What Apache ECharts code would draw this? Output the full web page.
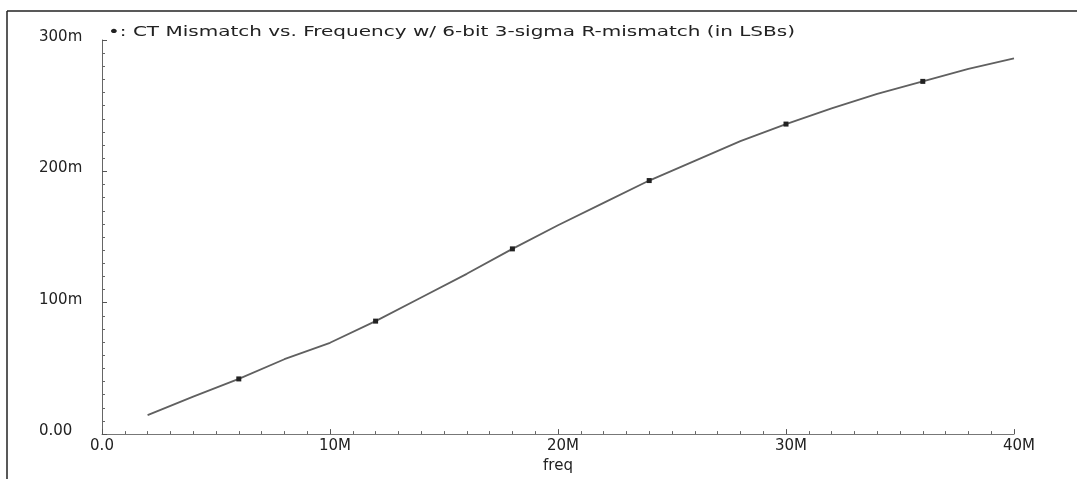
<!DOCTYPE html>
<html>
<head>
<meta charset="utf-8">
<title>CT Mismatch vs. Frequency</title>
<script src="https://cdn.jsdelivr.net/npm/echarts@6/dist/echarts.min.js"></script>
<style>
  html, body { margin: 0; padding: 0; background: #ffffff; }
  #chart { width: 1077px; height: 479px; }
</style>
</head>
<body>
<div id="chart"></div>
<script>
// Simulation sweep: frequency (MHz) and CT mismatch (milli-LSB)
var freqMHz = [2, 4, 6, 8, 10, 12, 14, 16, 18, 20, 22, 24, 26, 28, 30, 32, 34, 36, 38, 40];
var mismatchMilli = [14.5, 28.5, 42, 57, 69.5, 86, 104, 122, 141, 159, 176, 193, 208, 223, 236, 248, 259, 268.5, 278, 286];
// Frequencies that carry a plot marker
var markerFreqs = [6, 12, 18, 24, 30, 36];

var titleText = '\u2022: CT Mismatch vs. Frequency w/ 6-bit 3-sigma R-mismatch (in LSBs)';
var labelFont = 'DejaVu Sans';
var textColor = '#222';

// Stretch the heading to the wide plotter-style lettering
var titleSize = 14;
var measureCtx = document.createElement('canvas').getContext('2d');
measureCtx.font = titleSize + 'px "' + labelFont + '"';
var titleWidth = measureCtx.measureText(titleText).width;
var titleScale = 687 / titleWidth;

var points = freqMHz.map(function (f, i) { return [f, mismatchMilli[i]]; });

var chart = echarts.init(document.getElementById('chart'));
chart.setOption({
  backgroundColor: '#ffffff',
  animation: false,
  grid: { left: 102, right: 63, top: 40, bottom: 44, containLabel: false },
  xAxis: {
    type: 'value',
    min: 0,
    max: 40,
    interval: 10,
    name: 'freq',
    nameLocation: 'middle',
    nameGap: 22,
    nameTextStyle: { fontFamily: labelFont, fontSize: 15, color: textColor },
    axisLine: { show: true, lineStyle: { color: '#777', width: 1 } },
    axisTick: { show: true, inside: true, length: 5, lineStyle: { color: '#555' } },
    minorTick: { show: true, splitNumber: 10, length: 3, lineStyle: { color: '#666' } },
    splitLine: { show: false },
    minorSplitLine: { show: false },
    axisLabel: {
      fontFamily: labelFont,
      fontSize: 15,
      color: textColor,
      margin: 5,
      showMinLabel: true,
      showMaxLabel: true,
      formatter: function (v) { return v === 0 ? '0.0' : '{m|' + v + 'M}'; },
      rich: {
        m: { fontFamily: labelFont, fontSize: 15, color: textColor, padding: [0, 0, 0, 10] }
      }
    }
  },
  yAxis: {
    type: 'value',
    min: 0,
    max: 300,
    interval: 100,
    axisLine: { show: true, lineStyle: { color: '#666', width: 1 } },
    axisTick: { show: true, inside: true, length: 5, lineStyle: { color: '#555' } },
    minorTick: { show: true, splitNumber: 10, length: 3, lineStyle: { color: '#666' } },
    splitLine: { show: false },
    minorSplitLine: { show: false },
    axisLabel: {
      fontFamily: labelFont,
      fontSize: 15,
      color: textColor,
      align: 'left',
      margin: 63,
      verticalAlign: 'bottom',
      lineHeight: 6,
      showMinLabel: true,
      showMaxLabel: true,
      formatter: function (v) { return v === 0 ? '0.00' : v + 'm'; }
    }
  },
  series: [{
    type: 'line',
    data: points,
    smooth: false,
    showSymbol: true,
    symbol: 'rect',
    symbolSize: function (val) {
      return markerFreqs.indexOf(val[0]) >= 0 ? 5 : 0;
    },
    lineStyle: { color: '#606060', width: 1.8 },
    itemStyle: { color: '#222', borderWidth: 0 },
    emphasis: { disabled: true }
  }],
  graphic: [
    {
      type: 'line',
      shape: { x1: 7, y1: 11, x2: 1077, y2: 11 },
      style: { stroke: '#222', lineWidth: 1.5 },
      silent: true
    },
    {
      type: 'line',
      shape: { x1: 7, y1: 11, x2: 7, y2: 479 },
      style: { stroke: '#222', lineWidth: 1.5 },
      silent: true
    },
    {
      type: 'text',
      x: 108,
      y: 32,
      scaleX: titleScale,
      scaleY: 1,
      silent: true,
      style: {
        text: titleText,
        x: 0,
        y: 0,
        fill: textColor,
        font: titleSize + 'px "' + labelFont + '"',
        verticalAlign: 'middle',
        align: 'left'
      }
    }
  ]
});
</script>
</body>
</html>
